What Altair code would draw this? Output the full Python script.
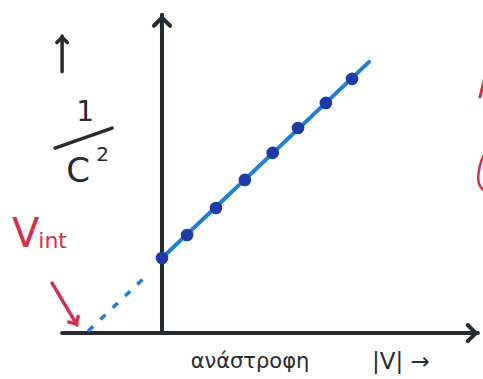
import altair as alt
import pandas as pd

# Measured points of 1/C^2 against reverse bias |V| (arbitrary units)
v_abs = [0.0, 0.93, 2.0, 3.07, 4.1, 5.04, 6.07, 7.04]
inv_c2 = [2.78, 3.63, 4.63, 5.67, 6.67, 7.59, 8.52, 9.41]

# Fitted straight line through the points and its extrapolation to the |V| axis
fit_v = [0.0, 7.67]
fit_c = [2.78, 10.04]
extrap_v = [-2.74, -0.63]
extrap_c = [0.07, 2.07]

# Pen strokes of red writing running off the right edge
edge_curve_x = [12.04, 11.81, 11.70, 11.72, 11.81, 12.04]
edge_curve_y = [6.78, 6.41, 5.85, 5.55, 5.37, 5.19]

X_DOM = [-6.0, 11.89]
Y_DOM = [-1.70, 12.33]

INK = "#262b30"
BLUE_LINE = "#1f7fd0"
BLUE_DOT = "#1d3aa6"
RED = "#d2304f"

xs = alt.Scale(domain=X_DOM, nice=False, zero=False)
ys = alt.Scale(domain=Y_DOM, nice=False, zero=False)


def X(field="x"):
    return alt.X(f"{field}:Q", scale=xs, axis=None)


def Y(field="y"):
    return alt.Y(f"{field}:Q", scale=ys, axis=None)


def seg(x0, y0, x1, y1, color, width, dash=None, clip=False):
    df = pd.DataFrame({"x": [x0], "y": [y0], "x2": [x1], "y2": [y1]})
    kw = dict(color=color, strokeWidth=width, strokeCap="round", clip=clip)
    if dash:
        kw["strokeDash"] = dash
    return alt.Chart(df).mark_rule(**kw).encode(
        x=X(), y=Y(), x2="x2:Q", y2="y2:Q"
    )


CHEVRON = "M -1 0.75 L 0 -0.25 L 1 0.75"


def head(x, y, angle, color, size, width):
    df = pd.DataFrame({"x": [x], "y": [y]})
    return alt.Chart(df).mark_point(
        shape=CHEVRON, filled=False, color=color, size=size,
        strokeWidth=width, angle=angle, opacity=1, strokeCap="round",
        strokeJoin="round",
    ).encode(x=X(), y=Y())


def label(x, y, text, size, color, align="center", baseline="middle"):
    df = pd.DataFrame({"x": [x], "y": [y], "t": [text]})
    return alt.Chart(df).mark_text(
        fontSize=size, color=color, align=align, baseline=baseline,
        font="DejaVu Sans",
    ).encode(x=X(), y=Y(), text="t:N")


# axes drawn as arrows
y_axis = seg(0, 0, 0, 11.78, INK, 4)
y_head = head(0, 11.6, 0, INK, 260, 4)
x_axis = seg(-3.7, 0, 11.7, 0, INK, 4)
x_head = head(11.55, 0, 90, INK, 260, 4)

# small arrow beside the y label
up_arrow = seg(-3.70, 9.67, -3.70, 11.0, INK, 3.5)
up_head = head(-3.70, 10.9, 0, INK, 110, 3.5)

# y label: 1 / C^2
one = label(-2.85, 8.15, "1", 28, INK)
bar = seg(-3.96, 6.85, -1.85, 7.59, INK, 3.5)
c_txt = label(-3.11, 5.96, "C", 34, INK)
sq_txt = label(-2.2, 6.6, "2", 20, INK)

# V_int annotation with red arrow
v_txt = label(-5.05, 3.63, "V", 40, RED)
int_txt = label(-4.05, 3.4, "int", 22, RED)
red_arrow = seg(-4.07, 1.85, -3.15, 0.30, RED, 3.5)
red_head = head(-3.2, 0.38, 149, RED, 120, 3.5)

# red pen strokes cut by the right edge
edge_slash = seg(11.78, 8.74, 11.95, 9.44, RED, 3, clip=True)
edge_curve = alt.Chart(
    pd.DataFrame({"x": edge_curve_x, "y": edge_curve_y, "o": list(range(6))})
).mark_line(color=RED, strokeWidth=2.5, clip=True, interpolate="basis").encode(
    x=X(), y=Y(), order="o:O"
)

# x label
xlab = label(3.26, -1.07, "ανάστροφη", 21, INK)
xlab2 = label(8.85, -1.07, "|V| →", 23, INK)

# fit line, extrapolation and data points
fit = alt.Chart(pd.DataFrame({"x": fit_v, "y": fit_c})).mark_line(
    color=BLUE_LINE, strokeWidth=4, strokeCap="round"
).encode(x=X(), y=Y())
extrap = alt.Chart(pd.DataFrame({"x": extrap_v, "y": extrap_c})).mark_line(
    color=BLUE_LINE, strokeWidth=3.5, strokeDash=[7, 10]
).encode(x=X(), y=Y())
dots = alt.Chart(pd.DataFrame({"x": v_abs, "y": inv_c2})).mark_circle(
    color=BLUE_DOT, size=160, opacity=1
).encode(x=X(), y=Y())

chart = alt.layer(
    y_axis, x_axis, y_head, x_head, up_arrow, up_head,
    one, bar, c_txt, sq_txt,
    v_txt, int_txt, red_arrow, red_head, edge_slash, edge_curve,
    xlab, xlab2, extrap, fit, dots,
).properties(
    width=483, height=379, padding=0,
    autosize=alt.AutoSizeParams(type="fit", contains="padding"),
    background="white",
).configure_view(stroke=None)

chart.save("out.html", embed_options={"renderer": "svg", "actions": False})
